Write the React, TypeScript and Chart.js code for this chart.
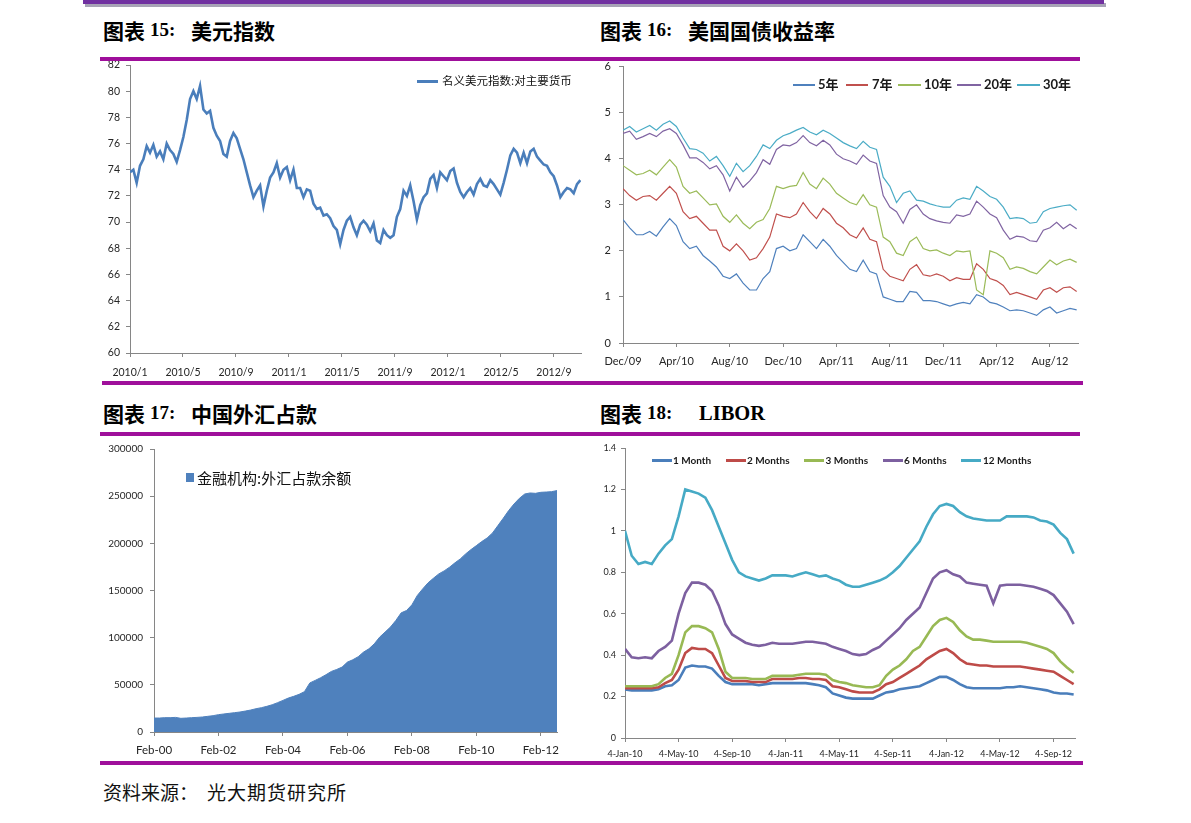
import React, { useEffect, useRef } from "react";
import { Chart, registerables } from "chart.js";

Chart.register(...registerables);

// ================= DATA =================
// 图表15 美元指数 (about 4 readings per month from 2010/1)
const usdTickLabels = ["2010/1", "2010/5", "2010/9", "2011/1", "2011/5", "2011/9", "2012/1", "2012/5", "2012/9"];
const usdIndex = [
  73.8, 74.0, 73.0, 74.3, 74.8, 75.8, 75.3, 75.9, 75.0, 75.4,
  74.8, 76.0, 75.5, 75.2, 74.6, 75.5, 76.5, 77.8, 79.4, 80.0,
  79.4, 80.4, 78.6, 78.3, 78.5, 77.2, 76.6, 76.2, 75.2, 75.0,
  76.2, 76.8, 76.4, 75.6, 74.8, 73.8, 72.8, 71.9, 72.4, 72.8,
  71.2, 72.4, 73.4, 73.8, 74.5, 73.4, 74.0, 74.2, 73.2, 74.0,
  72.6, 72.6, 71.9, 72.5, 72.4, 71.4, 71.0, 71.1, 70.5, 70.6,
  70.3, 69.7, 69.4, 68.3, 69.4, 70.1, 70.4, 69.6, 69.0, 69.8,
  70.1, 69.8, 69.3, 69.9, 68.6, 68.4, 69.4, 69.0, 68.8, 69.0,
  70.4, 71.0, 72.4, 72.0, 72.8, 71.6, 70.2, 71.3, 71.9, 72.2,
  73.3, 73.6, 72.6, 73.8, 73.5, 73.2, 73.9, 74.1, 73.0, 72.3,
  71.9, 72.3, 72.6, 72.1, 72.9, 73.3, 72.8, 72.7, 73.2, 72.9,
  72.5, 72.1, 73.0, 74.0, 75.1, 75.6, 75.3, 74.5, 75.3, 74.5,
  75.4, 75.6, 75.0, 74.7, 74.4, 74.3, 73.8, 73.5, 72.8, 71.9,
  72.3, 72.6, 72.5, 72.2, 72.9, 73.2,
];

// 图表16 美国国债收益率 (half-month readings from Dec/09)
const yieldTickLabels = ["Dec/09", "Apr/10", "Aug/10", "Dec/10", "Apr/11", "Aug/11", "Dec/11", "Apr/12", "Aug/12"];
const yield5 = [
  2.68, 2.50, 2.35, 2.35, 2.42, 2.32, 2.52, 2.70, 2.55, 2.20,
  2.05, 2.10, 1.90, 1.78, 1.65, 1.45, 1.40, 1.50, 1.30, 1.15,
  1.15, 1.40, 1.55, 2.05, 2.10, 2.00, 2.05, 2.35, 2.20, 2.05,
  2.25, 2.10, 1.90, 1.75, 1.60, 1.55, 1.80, 1.55, 1.50, 1.00,
  0.95, 0.90, 0.90, 1.12, 1.10, 0.92, 0.92, 0.90, 0.85, 0.80,
  0.85, 0.88, 0.85, 1.05, 1.00, 0.88, 0.85, 0.78, 0.70, 0.72,
  0.70, 0.65, 0.60, 0.72, 0.78, 0.65, 0.70, 0.75, 0.72,
];
const yield7 = [
  3.35, 3.20, 3.10, 3.18, 3.20, 3.10, 3.25, 3.40, 3.25, 2.85,
  2.70, 2.75, 2.60, 2.45, 2.45, 2.10, 2.00, 2.15, 2.00, 1.80,
  1.85, 2.05, 2.30, 2.80, 2.75, 2.72, 2.80, 3.05, 2.85, 2.70,
  2.92, 2.80, 2.60, 2.50, 2.35, 2.28, 2.50, 2.25, 2.20, 1.60,
  1.45, 1.40, 1.35, 1.60, 1.70, 1.48, 1.45, 1.50, 1.45, 1.35,
  1.42, 1.38, 1.38, 1.72, 1.60, 1.40, 1.35, 1.25, 1.05, 1.10,
  1.05, 1.00, 0.95, 1.15, 1.20, 1.10, 1.20, 1.22, 1.12,
];
const yield10 = [
  3.85, 3.75, 3.65, 3.68, 3.75, 3.65, 3.82, 3.98, 3.82, 3.40,
  3.25, 3.30, 3.15, 3.00, 3.02, 2.75, 2.62, 2.78, 2.60, 2.48,
  2.62, 2.68, 2.92, 3.40, 3.35, 3.40, 3.42, 3.70, 3.45, 3.35,
  3.58, 3.45, 3.25, 3.15, 3.05, 3.00, 3.22, 3.00, 2.95, 2.30,
  2.20, 1.95, 1.90, 2.20, 2.30, 2.05, 2.00, 2.02, 1.95, 1.90,
  2.00, 1.98, 2.00, 1.15, 1.05, 2.00, 1.95, 1.85, 1.60, 1.65,
  1.62, 1.55, 1.50, 1.65, 1.80, 1.70, 1.78, 1.82, 1.75,
];
const yield20 = [
  4.55, 4.60, 4.42, 4.48, 4.55, 4.48, 4.60, 4.65, 4.55, 4.30,
  4.02, 4.02, 3.92, 3.78, 3.85, 3.65, 3.30, 3.60, 3.38, 3.52,
  3.70, 3.98, 3.88, 4.20, 4.30, 4.28, 4.35, 4.50, 4.35, 4.28,
  4.40, 4.30, 4.10, 4.00, 3.95, 3.88, 4.08, 3.95, 3.90, 3.20,
  2.95, 2.85, 2.60, 2.90, 3.00, 2.80, 2.70, 2.65, 2.62, 2.60,
  2.78, 2.75, 2.80, 3.08, 2.95, 2.80, 2.72, 2.45, 2.25, 2.32,
  2.30, 2.22, 2.20, 2.45, 2.50, 2.62, 2.48, 2.58, 2.48,
];
const yield30 = [
  4.62, 4.70, 4.58, 4.65, 4.72, 4.62, 4.75, 4.82, 4.70, 4.45,
  4.22, 4.20, 4.12, 3.95, 4.05, 3.85, 3.62, 3.90, 3.72, 3.85,
  4.05, 4.30, 4.22, 4.40, 4.50, 4.55, 4.62, 4.68, 4.58, 4.52,
  4.62, 4.55, 4.45, 4.35, 4.28, 4.22, 4.38, 4.25, 4.20, 3.60,
  3.40, 3.05, 3.25, 3.30, 3.10, 3.08, 3.02, 2.98, 2.95, 2.95,
  3.10, 3.15, 3.12, 3.40, 3.30, 3.18, 3.12, 2.95, 2.70, 2.72,
  2.70, 2.60, 2.62, 2.85, 2.92, 2.95, 2.98, 3.00, 2.88,
];

// 图表17 中国外汇占款 (every two months from Feb-00)
const fxTickLabels = ["Feb-00", "Feb-02", "Feb-04", "Feb-06", "Feb-08", "Feb-10", "Feb-12"];
const fxReserve = [
  14800, 14800, 15200, 15200, 15500, 14500, 14800, 15200, 15500, 15900,
  16600, 17300, 18400, 19100, 19800, 20500, 21200, 22200, 23300, 24700,
  25800, 27200, 28900, 31100, 33500, 36000, 37800, 39900, 42800, 52000,
  54700, 57500, 60700, 64200, 66300, 68800, 74100, 76600, 79800, 84700,
  88200, 93500, 100600, 105900, 111200, 118200, 126300, 128800, 134800, 144700,
  151700, 158100, 163000, 167600, 170800, 174700, 179300, 183500, 188800, 193400,
  197600, 201900, 205700, 211000, 218800, 226600, 234700, 241700, 247700, 252300,
  253400, 253000, 254100, 254400, 254800, 255900,
];

// 图表18 LIBOR (half-month readings from 4-Jan-10)
const liborTickLabels = ["4-Jan-10", "4-May-10", "4-Sep-10", "4-Jan-11", "4-May-11", "4-Sep-11", "4-Jan-12", "4-May-12", "4-Sep-12"];
const libor1m = [
  0.235, 0.23, 0.23, 0.23, 0.23, 0.235, 0.25, 0.255, 0.28, 0.34,
  0.35, 0.345, 0.345, 0.335, 0.30, 0.27, 0.26, 0.26, 0.26, 0.26,
  0.255, 0.26, 0.265, 0.265, 0.265, 0.265, 0.265, 0.265, 0.26, 0.255,
  0.245, 0.215, 0.205, 0.195, 0.19, 0.19, 0.19, 0.19, 0.205, 0.22,
  0.225, 0.235, 0.24, 0.245, 0.25, 0.265, 0.28, 0.295, 0.295, 0.28,
  0.26, 0.245, 0.24, 0.24, 0.24, 0.24, 0.24, 0.245, 0.245, 0.25,
  0.245, 0.24, 0.235, 0.23, 0.22, 0.215, 0.215, 0.21,
];
const libor2m = [
  0.24, 0.24, 0.24, 0.24, 0.24, 0.245, 0.265, 0.28, 0.33, 0.41,
  0.435, 0.43, 0.43, 0.41, 0.35, 0.29, 0.275, 0.275, 0.275, 0.27,
  0.27, 0.27, 0.285, 0.285, 0.285, 0.285, 0.29, 0.29, 0.285, 0.285,
  0.28, 0.25, 0.245, 0.235, 0.225, 0.22, 0.22, 0.22, 0.235, 0.26,
  0.27, 0.29, 0.31, 0.33, 0.35, 0.38, 0.40, 0.42, 0.43, 0.41,
  0.38, 0.36, 0.355, 0.35, 0.35, 0.345, 0.345, 0.345, 0.345, 0.345,
  0.34, 0.335, 0.33, 0.325, 0.32, 0.30, 0.28, 0.26,
];
const libor3m = [
  0.25, 0.25, 0.25, 0.25, 0.25, 0.26, 0.29, 0.31, 0.40, 0.51,
  0.54, 0.54, 0.53, 0.51, 0.43, 0.32, 0.29, 0.29, 0.29, 0.285,
  0.285, 0.285, 0.30, 0.30, 0.30, 0.30, 0.305, 0.31, 0.31, 0.31,
  0.305, 0.28, 0.27, 0.265, 0.255, 0.25, 0.245, 0.245, 0.255, 0.30,
  0.33, 0.35, 0.38, 0.42, 0.44, 0.49, 0.54, 0.57, 0.58, 0.56,
  0.52, 0.49, 0.475, 0.475, 0.47, 0.465, 0.465, 0.465, 0.465, 0.465,
  0.46, 0.45, 0.44, 0.43, 0.41, 0.37, 0.34, 0.315,
];
const libor6m = [
  0.43, 0.39, 0.385, 0.39, 0.385, 0.42, 0.44, 0.47, 0.60, 0.70,
  0.75, 0.75, 0.74, 0.71, 0.64, 0.55, 0.50, 0.48, 0.46, 0.45,
  0.445, 0.45, 0.46, 0.455, 0.455, 0.455, 0.46, 0.465, 0.465, 0.46,
  0.455, 0.44, 0.43, 0.42, 0.405, 0.40, 0.405, 0.425, 0.44, 0.47,
  0.50, 0.53, 0.57, 0.60, 0.63, 0.70, 0.77, 0.80, 0.81, 0.79,
  0.78, 0.75, 0.745, 0.74, 0.735, 0.65, 0.735, 0.74, 0.74, 0.74,
  0.735, 0.73, 0.72, 0.71, 0.69, 0.65, 0.61, 0.55,
];
const libor12m = [
  1.00, 0.88, 0.84, 0.85, 0.84, 0.89, 0.93, 0.96, 1.07, 1.20,
  1.19, 1.18, 1.16, 1.10, 1.02, 0.94, 0.86, 0.80, 0.78, 0.77,
  0.76, 0.77, 0.785, 0.785, 0.785, 0.78, 0.79, 0.80, 0.79, 0.78,
  0.785, 0.77, 0.76, 0.74, 0.73, 0.73, 0.74, 0.75, 0.76, 0.775,
  0.80, 0.83, 0.87, 0.91, 0.95, 1.02, 1.08, 1.12, 1.13, 1.12,
  1.09, 1.07, 1.06, 1.055, 1.05, 1.05, 1.05, 1.07, 1.07, 1.07,
  1.07, 1.065, 1.05, 1.045, 1.03, 0.99, 0.96, 0.89,
];

// ================= STYLE =================
const AXIS = "#868686";
const TICK = "#262626";
const PURPLE = "#9f0f9b";
const LATO = 'Lato, "Noto Sans", "DejaVu Sans", sans-serif';
const CJK = '"Noto Sans CJK SC", "Noto Sans", sans-serif';
const LATO_CJK = 'Lato, "Noto Sans CJK SC", sans-serif';
const SERIF = '"Liberation Serif", "DejaVu Serif", "Noto Sans CJK SC", serif';

const yieldSeries = [
  { label: "5年", data: yield5, color: "#4f81bd" },
  { label: "7年", data: yield7, color: "#c0504d" },
  { label: "10年", data: yield10, color: "#9bbb59" },
  { label: "20年", data: yield20, color: "#8064a2" },
  { label: "30年", data: yield30, color: "#4bacc6" },
];
const liborSeries = [
  { label: "1 Month", data: libor1m, color: "#4a7ebb" },
  { label: "2 Months", data: libor2m, color: "#be4b48" },
  { label: "3 Months", data: libor3m, color: "#98b954" },
  { label: "6 Months", data: libor6m, color: "#7d60a0" },
  { label: "12 Months", data: libor12m, color: "#46aac5" },
];

const toXY = (arr: number[], step: number) => arr.map((v, i) => ({ x: i * step, y: v }));

function xAxis(max: number, tickVals: number[], labels: string[], size: number, pad: number, h: number) {
  return {
    type: "linear" as const,
    min: 0,
    max,
    bounds: "data" as const,
    afterBuildTicks: (s: any) => {
      s.ticks = tickVals.map((v) => ({ value: v }));
    },
    afterFit: (s: any) => {
      s.height = h;
    },
    ticks: {
      autoSkip: false,
      maxRotation: 0,
      minRotation: 0,
      color: TICK,
      padding: pad,
      font: { family: LATO, size },
      callback: (_v: any, i: number) => labels[i] ?? "",
    },
    grid: { display: true, drawOnChartArea: false, drawTicks: true, tickLength: 4, color: AXIS, lineWidth: 1 },
    border: { display: true, color: AXIS, width: 1 },
  };
}

function yAxis(min: number, max: number, step: number, size: number, pad: number, w: number) {
  return {
    type: "linear" as const,
    min,
    max,
    afterFit: (s: any) => {
      s.width = w;
    },
    ticks: {
      stepSize: step,
      color: TICK,
      padding: pad,
      font: { family: LATO, size },
      callback: (v: any) => String(Math.round(Number(v) * 1000) / 1000),
    },
    grid: { display: true, drawOnChartArea: false, drawTicks: true, tickLength: 4, color: AXIS, lineWidth: 1 },
    border: { display: true, color: AXIS, width: 1 },
  };
}

function baseOptions(padding: any, scales: any) {
  return {
    responsive: false,
    maintainAspectRatio: false,
    animation: false as const,
    devicePixelRatio: 1,
    events: [] as any[],
    layout: { padding },
    plugins: { legend: { display: false }, tooltip: { enabled: false }, title: { display: false } },
    elements: { point: { radius: 0 }, line: { tension: 0 } },
    scales,
  };
}

const monthTicks = [0, 4, 8, 12, 16, 20, 24, 28, 32];

const configs: Record<string, () => any> = {
  usd: () => ({
    type: "line",
    data: {
      datasets: [
        {
          label: "名义美元指数:对主要货币",
          data: toXY(usdIndex, 0.2518),
          borderColor: "#4a7ebb",
          borderWidth: 2.6,
          pointRadius: 0,
          fill: false,
        },
      ],
    },
    options: baseOptions(
      { left: 5, top: 13, right: 14, bottom: 3 },
      { x: xAxis(34.04, monthTicks, usdTickLabels, 10.5, 9, 24), y: yAxis(60, 82, 2, 10.5, 6, 35) }
    ),
  }),
  yields: () => ({
    type: "line",
    data: {
      datasets: yieldSeries.map((s, i) => ({
        label: s.label,
        data: toXY(s.data, 0.5),
        borderColor: s.color,
        borderWidth: 1.2,
        pointRadius: 0,
        fill: false,
        order: -i,
      })),
    },
    options: baseOptions(
      { left: 0, top: 12, right: 12, bottom: 13 },
      { x: xAxis(34.1, monthTicks, yieldTickLabels, 11, 8, 24), y: yAxis(0, 6, 1, 11, 8, 33) }
    ),
  }),
  fx: () => ({
    type: "line",
    data: {
      datasets: [
        {
          label: "金融机构:外汇占款余额",
          data: toXY(fxReserve, 2),
          borderColor: "#4f81bd",
          backgroundColor: "#4f81bd",
          borderWidth: 1,
          pointRadius: 0,
          fill: "origin",
        },
      ],
    },
    options: baseOptions(
      { left: 0, top: 12, right: 33, bottom: 8 },
      {
        x: xAxis(150, [0, 24, 48, 72, 96, 120, 144], fxTickLabels, 11.5, 7, 24),
        y: yAxis(0, 300000, 50000, 10, 7, 64),
      }
    ),
  }),
  libor: () => ({
    type: "line",
    data: {
      datasets: liborSeries.map((s, i) => ({
        label: s.label,
        data: toXY(s.data, 0.5),
        borderColor: s.color,
        borderWidth: 2.6,
        pointRadius: 0,
        fill: false,
        order: -i,
      })),
    },
    options: baseOptions(
      { left: 0, top: 12, right: 15, bottom: 8 },
      { x: xAxis(33.6, monthTicks, liborTickLabels, 9, 7, 20), y: yAxis(0, 1.4, 0.2, 9, 5, 35) }
    ),
  }),
};

function ChartCanvas({ left, top, width, height, kind }: { left: number; top: number; width: number; height: number; kind: string }) {
  const ref = useRef<HTMLCanvasElement | null>(null);
  useEffect(() => {
    if (!ref.current) return;
    const chart = new Chart(ref.current, configs[kind]());
    return () => chart.destroy();
  }, [kind]);
  return (
    <canvas
      ref={ref}
      width={width}
      height={height}
      style={{ position: "absolute", left, top, width, height, display: "block" }}
    />
  );
}

function Txt({
  x, cy, size, family, weight = 400, color = "#000", ls = 0, children,
}: { x: number; cy: number; size: number; family: string; weight?: number; color?: string; ls?: number; children: any }) {
  return (
    <div
      style={{
        position: "absolute",
        left: x,
        top: cy - size * 0.6,
        fontSize: size,
        lineHeight: `${size * 1.2}px`,
        fontFamily: family,
        fontWeight: weight,
        color,
        letterSpacing: ls,
        whiteSpace: "nowrap",
      }}
    >
      {children}
    </div>
  );
}

function Bar({ x, y, w, h, color }: { x: number; y: number; w: number; h: number; color: string }) {
  return <div style={{ position: "absolute", left: x, top: y, width: w, height: h, background: color }} />;
}

function Heading({ x, cy, num, title, latinTitle }: { x: number; cy: number; num: string; title: string; latinTitle?: boolean }) {
  return (
    <>
      <Txt x={x} cy={cy} size={21} family={CJK} weight={700}>图表</Txt>
      <Txt x={x + 47} cy={cy} size={19} family={SERIF} weight={700}>{num}</Txt>
      {latinTitle ? (
        <Txt x={x + 99} cy={cy} size={20.5} family={SERIF} weight={700}>{title}</Txt>
      ) : (
        <Txt x={x + 88} cy={cy} size={21} family={CJK} weight={700}>{title}</Txt>
      )}
    </>
  );
}

const yieldLegendPos = [
  { lx: 793, lw: 22, tx: 818 },
  { lx: 846, lw: 22, tx: 872 },
  { lx: 898, lw: 23, tx: 924 },
  { lx: 957, lw: 24, tx: 984 },
  { lx: 1017, lw: 23, tx: 1043 },
];
const liborLegendPos = [
  { lx: 652, tx: 673 },
  { lx: 726, tx: 747 },
  { lx: 804, tx: 825.5 },
  { lx: 883, tx: 904 },
  { lx: 961, tx: 983 },
];

export default function App() {
  return (
    <div style={{ position: "absolute", left: 0, top: 0, width: 1191, height: 823, background: "#fff", overflow: "hidden" }}>
      {/* charts */}
      <ChartCanvas kind="usd" left={90} top={52} width={505} height={328} />
      <ChartCanvas kind="yields" left={590} top={52} width={500} height={328} />
      <ChartCanvas kind="fx" left={90} top={436} width={500} height={328} />
      <ChartCanvas kind="libor" left={590} top={436} width={500} height={330} />

      {/* top banner */}
      <Bar x={85} y={3} w={1021} h={4} color="#a7a3b6" />
      <Bar x={83} y={0} w={1021} h={4} color="#7030a0" />

      {/* headings */}
      <Heading x={103} cy={30.5} num="15:" title="美元指数" />
      <Heading x={600} cy={30.5} num="16:" title="美国国债收益率" />
      <Heading x={103} cy={413.5} num="17:" title="中国外汇占款" />
      <Heading x={600} cy={413.5} num="18:" title="LIBOR" latinTitle />

      {/* separator lines */}
      <Bar x={100} y={57} w={980} h={4} color={PURPLE} />
      <Bar x={102} y={381} w={981} h={4} color={PURPLE} />
      <Bar x={100} y={432} w={980} h={4} color={PURPLE} />
      <Bar x={100} y={761} w={983} h={4} color={PURPLE} />

      {/* legend 15 */}
      <Bar x={417} y={80} w={21} h={3} color="#4a7ebb" />
      <Txt x={442} cy={81} size={11.5} family={CJK} color="#111">名义美元指数:对主要货币</Txt>

      {/* legend 16 */}
      {yieldSeries.map((s, i) => (
        <React.Fragment key={s.label}>
          <Bar x={yieldLegendPos[i].lx} y={84} w={yieldLegendPos[i].lw} h={2} color={s.color} />
          <Txt x={yieldLegendPos[i].tx} cy={85} size={13} family={LATO_CJK} weight={700} color="#1a1a1a">{s.label}</Txt>
        </React.Fragment>
      ))}

      {/* legend 17 */}
      <Bar x={186} y={473} w={8} h={9} color="#4f81bd" />
      <Txt x={197} cy={477.5} size={15} family={CJK} color="#111">金融机构:外汇占款余额</Txt>

      {/* legend 18 */}
      {liborSeries.map((s, i) => (
        <React.Fragment key={s.label}>
          <Bar x={liborLegendPos[i].lx} y={459} w={20} h={3} color={s.color} />
          <Txt x={liborLegendPos[i].tx} cy={460} size={10} family={LATO} weight={700} color="#1a1a1a">{s.label}</Txt>
        </React.Fragment>
      ))}

      {/* footer */}
      <Txt x={103} cy={792.5} size={19} family={CJK} color="#111">资料来源：</Txt>
      <Txt x={207} cy={792.5} size={19} family={CJK} color="#111" ls={1}>光大期货研究所</Txt>
    </div>
  );
}
